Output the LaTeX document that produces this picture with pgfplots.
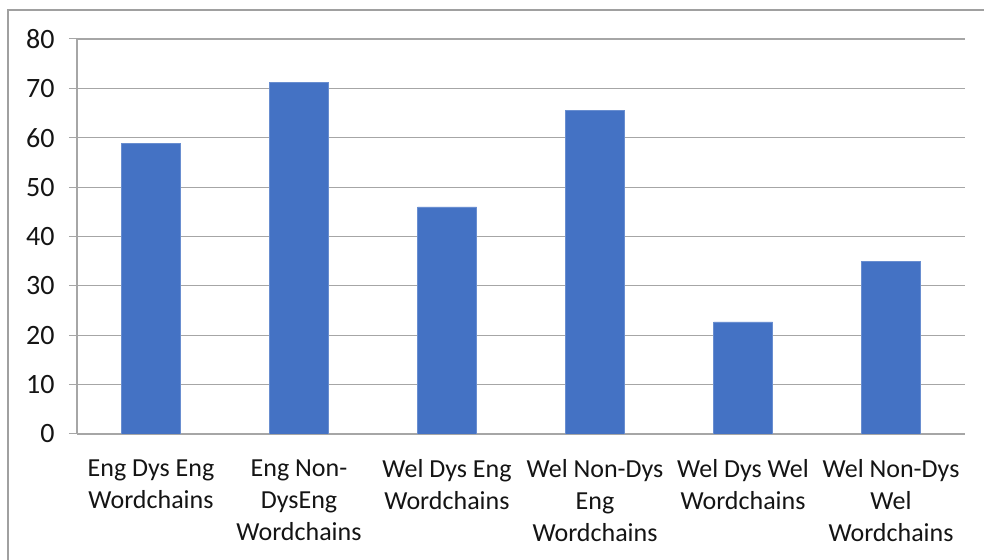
\documentclass[border=0pt]{standalone}
\usepackage{pgfplots}
\pgfplotsset{compat=1.18}
\usepackage{fontspec}
\setmainfont{Carlito}
\definecolor{barblue}{HTML}{4472C4}
\definecolor{gridgray}{HTML}{A6A6A6}
\definecolor{framegray}{HTML}{A0A0A0}
\definecolor{labeltext}{HTML}{141414}
\begin{document}
\begin{tikzpicture}[x=1bp,y=1bp]
\path[use as bounding box] (0,0) rectangle (984,560);
% chart frame
\draw[framegray,line width=1.2bp] (8,-20) -- (8,550) -- (1000,550);
\begin{axis}[
  at={(77bp,126bp)}, anchor=south west,
  scale only axis, width=888bp, height=395bp,
  xmin=-0.5, xmax=5.5, ymin=0, ymax=80,
  ytick={0,10,...,80},
  xtick={0,...,5},
  xticklabels={{Eng Dys Eng\\Wordchains},{Eng Non-\\DysEng\\Wordchains},{Wel Dys Eng\\Wordchains},{Wel Non-Dys\\Eng\\Wordchains},{Wel Dys Wel\\Wordchains},{Wel Non-Dys\\Wel\\Wordchains}},
  x tick style={draw=none},
  extra x ticks={-0.5,0.5,...,5.5},
  extra x tick labels={},
  extra x tick style={tick style={draw=gridgray,line width=1bp}, major tick length=7bp, grid=none},
  axis x line=bottom, axis y line=left,
  axis line style={-, draw=gridgray, line width=1.2bp},
  tick align=outside,
  major tick length=8bp,
  y tick style={draw=gridgray,line width=1bp},
  ymajorgrids, grid style={gridgray,line width=1.2bp},
  /pgf/number format/assume math mode=true,
  tick label style={text=labeltext},
  xticklabel style={font=\fontsize{26bp}{32bp}\selectfont, align=center, yshift=-14bp},
  yticklabel style={font=\fontsize{28bp}{32bp}\selectfont, xshift=-11bp},
  ybar, bar width=59bp,
]
\addplot[fill=barblue, draw=barblue!80!white, line width=0.6bp] coordinates {
  (0,58.8) (1,71.2) (2,46.0) (3,65.5) (4,22.7) (5,35.0)
};
\end{axis}
\end{tikzpicture}
\end{document}
